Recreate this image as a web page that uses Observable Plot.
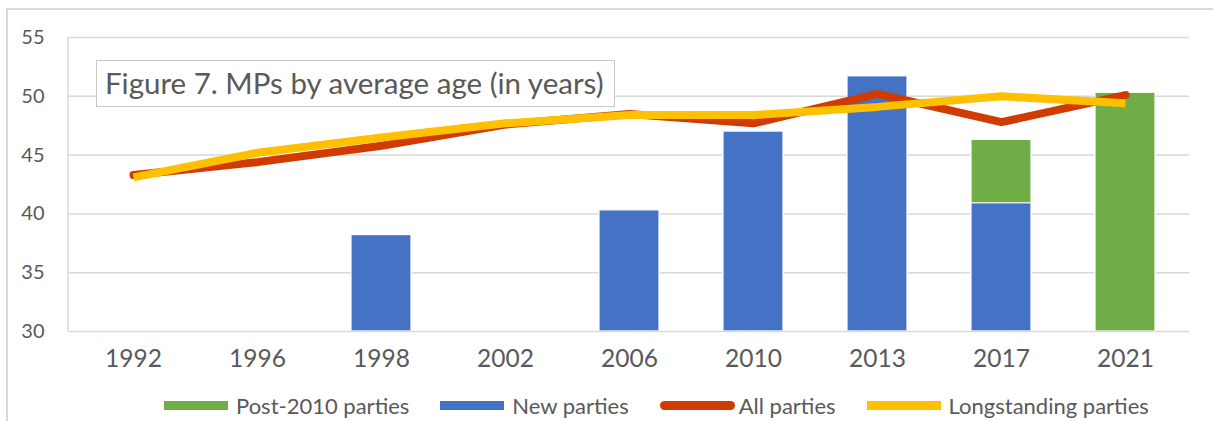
<!DOCTYPE html>
<html>
<head>
<meta charset="utf-8">
<script src="https://cdn.jsdelivr.net/npm/d3@7"></script>
<script src="https://cdn.jsdelivr.net/npm/@observablehq/plot@0.6"></script>
<style>
  html, body { margin: 0; padding: 0; background: #fff; overflow: hidden; width: 1213px; height: 421px; }
  #wrap { position: relative; width: 1213px; height: 421px; font-family: Lato, "Open Sans", sans-serif; color: #595959; }
  #chart { position: absolute; left: 0; top: 0; }
  #frame { position: absolute; left: 6px; top: 8px; width: 1300px; height: 500px; border: 2px solid #d9d9d9; box-sizing: border-box; pointer-events: none; }
  #title { position: absolute; left: 96px; top: 60px; width: 519px; height: 47px; box-sizing: border-box; border: 1.5px solid #c8c8c8; background: #fff; font-size: 29.5px; line-height: 43px; padding-left: 8px; white-space: nowrap; }
  #legend { position: absolute; left: 164px; top: 393px; height: 24px; display: flex; align-items: center; font-size: 22px; white-space: nowrap; }
  .item { display: flex; align-items: center; margin-right: 31px; }
  .sw { display: inline-block; height: 9px; margin-right: 8px; }
</style>
</head>
<body>
<div id="wrap">
  <div id="chart"></div>
  <div id="title">Figure 7. MPs by average age (in years)</div>
  <div id="legend"></div>
  <div id="frame"></div>
</div>
<script>
// Election years and average MP ages (years)
const years = ["1992", "1996", "1998", "2002", "2006", "2010", "2013", "2017", "2021"];
const allParties = [43.3, 44.4, 45.8, 47.6, 48.5, 47.7, 50.2, 47.8, 50.1];
const longstandingParties = [43.1, 45.2, 46.5, 47.7, 48.4, 48.4, 49.1, 50.0, 49.4];
const newParties = [null, null, 38.2, null, 40.3, 47.0, 51.7, 40.9, null];
const post2010Parties = [null, null, null, null, null, null, null, 46.3, 50.3];
const yTicks = [30, 35, 40, 45, 50, 55];

const colors = {
  post: "#70ad47",
  fresh: "#4472c4",
  all: "#d13b00",
  long: "#ffc000"
};

const yMin = yTicks[0], yMax = yTicks[yTicks.length - 1];

const rows = years.map((year, i) => ({
  year,
  fresh: newParties[i],
  post: post2010Parties[i],
  all: allParties[i],
  long: longstandingParties[i]
}));

// vertical value-axis line on the left edge of the plot area
function axisLine(index, scales, values, dims) {
  const el = document.createElementNS("http://www.w3.org/2000/svg", "line");
  el.setAttribute("x1", dims.marginLeft);
  el.setAttribute("x2", dims.marginLeft);
  el.setAttribute("y1", scales.y(yMax));
  el.setAttribute("y2", scales.y(yMin));
  el.setAttribute("stroke", "#d9d9d9");
  el.setAttribute("stroke-width", 1.5);
  return el;
}

const chart = Plot.plot({
  width: 1213,
  height: 385,
  marginLeft: 68,
  marginRight: 24,
  marginTop: 37,
  marginBottom: 54,
  style: { fontFamily: "Lato, 'Open Sans', sans-serif", background: "transparent", overflow: "visible" },
  x: { type: "band", domain: years, paddingInner: 0.518, paddingOuter: 0.259, axis: null },
  y: { domain: [yMin, yMax], axis: null },
  marks: [
    Plot.ruleY(yTicks.slice(1), { stroke: "#d9d9d9", strokeWidth: 1.5 }),
    axisLine,
    Plot.barY(rows.filter(d => d.post != null), { x: "year", y1: yMin, y2: "post", fill: colors.post, stroke: "#fff", strokeWidth: 1.2 }),
    Plot.barY(rows.filter(d => d.fresh != null), { x: "year", y1: yMin, y2: "fresh", fill: colors.fresh, stroke: "#fff", strokeWidth: 1.2 }),
    Plot.ruleY([yMin], { stroke: "#d9d9d9", strokeWidth: 1.5 }),
    Plot.line(rows, { x: "year", y: "all", stroke: colors.all, strokeWidth: 8, strokeLinecap: "round", strokeLinejoin: "miter" }),
    Plot.line(rows, { x: "year", y: "long", stroke: colors.long, strokeWidth: 8, strokeLinecap: "butt", strokeLinejoin: "miter" }),
    Plot.text(yTicks, { y: d => d, frameAnchor: "left", textAnchor: "end", dx: -24, fontSize: 20, fill: "#595959" }),
    Plot.text(years, { x: d => d, frameAnchor: "bottom", dy: 35, fontSize: 24.5, fill: "#595959" })
  ]
});
document.getElementById("chart").appendChild(chart);

// legend
const legendItems = [
  { label: "Post-2010 parties", color: colors.post, w: 64, round: false },
  { label: "New parties", color: colors.fresh, w: 64, round: false },
  { label: "All parties", color: colors.all, w: 75, round: true },
  { label: "Longstanding parties", color: colors.long, w: 74, round: false }
];
const legend = document.getElementById("legend");
for (const it of legendItems) {
  const item = document.createElement("span");
  item.className = "item";
  const sw = document.createElement("span");
  sw.className = "sw";
  sw.style.width = it.w + "px";
  sw.style.background = it.color;
  if (it.round) { sw.style.borderRadius = "5px"; sw.style.marginRight = "4px"; }
  item.appendChild(sw);
  const t = document.createElement("span");
  t.textContent = it.label;
  item.appendChild(t);
  legend.appendChild(item);
}
</script>
</body>
</html>
